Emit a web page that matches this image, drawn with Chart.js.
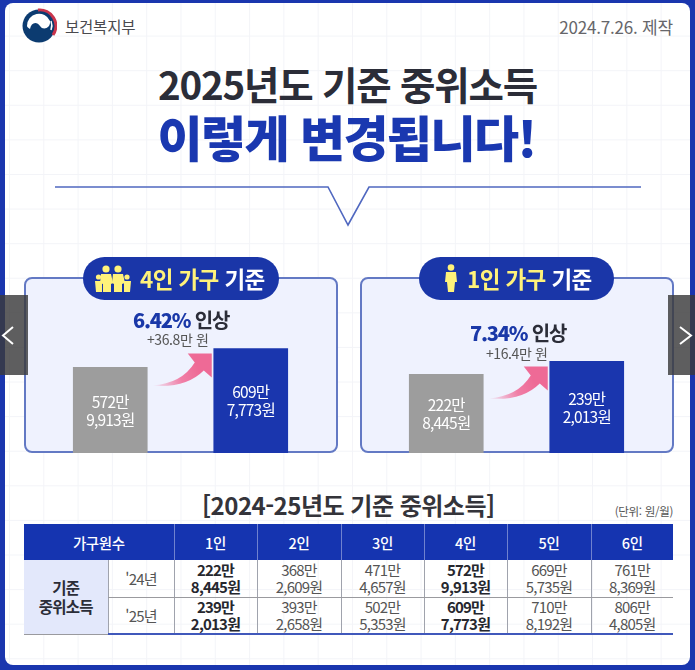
<!DOCTYPE html>
<html lang="ko">
<head>
<meta charset="utf-8">
<title>2025년도 기준 중위소득</title>
<script src="https://cdn.jsdelivr.net/npm/chart.js@4"></script>
<style>
  * { box-sizing: border-box; }
  html, body { margin: 0; padding: 0; }
  body {
    position: relative; width: 695px; height: 670px; overflow: hidden;
    background: #1a36ae;
    font-family: "Noto Sans CJK KR", "Noto Sans", sans-serif;
  }
  .abs { position: absolute; white-space: nowrap; }
  #sheet {
    left: 5px; top: 3px; width: 685px; height: 662px; border-radius: 8px;
    background-color: #fff;
    background-image:
      linear-gradient(#f3f4f8 1px, transparent 1px),
      linear-gradient(90deg, #f3f4f8 1px, transparent 1px);
    background-size: 34.3px 34.6px;
    background-position: 4px -2px;
  }
  #org { left: 65px; top: 15px; font-size: 15.5px; line-height: 22px; color: #4a4a4e; letter-spacing: -0.2px; }
  #made { right: 22px; top: 16px; font-size: 17px; line-height: 22px; color: #66666a; letter-spacing: -0.2px; }
  .title { left: 0; width: 695px; text-align: center; }
  #title1 { top: 57px; font-size: 38.5px; line-height: 52px; font-weight: 700; color: #2b2d38; letter-spacing: -1.2px; }
  #title2 { top: 104px; font-size: 49px; line-height: 64px; font-weight: 900; color: #1a38b0; letter-spacing: -1.6px; left: -1px; }
  .panel { top: 277px; width: 314px; height: 176px; background: #eff2fe; border: 2px solid #6379c4; border-radius: 8px; }
  .pill { top: 257px; height: 43px; background: #1a36a8; border-radius: 22px; }
  .pilltext { top: 262px; font-size: 22.5px; line-height: 32px; font-weight: 700; color: #fff; letter-spacing: -0.6px; }
  .pilltext b { color: #fff27a; font-weight: 700; }
  canvas { position: absolute; top: 279px; }
  .rate { font-size: 20px; line-height: 28px; font-weight: 700; color: #2b2d38; letter-spacing: -1.2px; }
  .rate b { color: #1a38a8; }
  .plus { font-size: 14px; line-height: 20px; color: #555; letter-spacing: -0.4px; }
  #tabletitle { left: 202px; top: 488px; font-size: 24px; line-height: 34px; font-weight: 700; color: #34343a; letter-spacing: -0.5px; }
  #unit { right: 22px; top: 503px; font-size: 11.5px; line-height: 16px; color: #555; letter-spacing: -0.3px; }
  #income { left: 24px; top: 524px; width: 649px; table-layout: fixed; border-collapse: collapse; text-align: center; color: #555; }
  #income th, #income td { padding: 0; border-left: 1px solid #a0a3ad; font-weight: 400; }
  #income th:first-child { border-left: 0; }
  #income thead th { height: 36px; background: #1534b0; color: #fff; font-size: 14.5px; font-weight: 500; border-left-color: #6f82cf; letter-spacing: -0.4px; }
  #income tbody td { height: 37px; font-size: 15px; line-height: 17px; letter-spacing: -0.8px; }
  #income tbody tr:first-child td { border-bottom: 1px solid #9a9a9e; }
  #income tbody tr:last-child td { border-bottom: 2px solid #4058bb; }
  #income td.group { background: #e3e8fb; color: #2b2d38; font-size: 15.5px; font-weight: 700; line-height: 19px; border-left: 0; border-bottom: 2px solid #4058bb; }
  #income td.strong { color: #26272e; font-weight: 700; }
  .nav { top: 295px; width: 28px; height: 80px; background: rgba(58, 58, 60, 0.82); }
</style>
</head>
<body>
<div class="abs" id="sheet"></div>

<svg class="abs" style="left:21px;top:8px" width="36" height="36" viewBox="0 0 36 36">
  <circle cx="18" cy="18" r="16.5" fill="#0c3b70"/>
  <path d="M17 2 A16 16 0 0 1 32 27" fill="none" stroke="#c9344c" stroke-width="3"/>
  <path d="M6 18 A12 12 0 0 1 29 13 C30 20 22 23 19 18 C16 13 10 14 9 21 C7.5 20 6 19 6 18 Z" fill="#fff"/>
  <path d="M30 13 A12.5 12.5 0 0 1 30 22" fill="none" stroke="#fff" stroke-width="1.5"/>
</svg>
<div class="abs" id="org">보건복지부</div>
<div class="abs" id="made">2024.7.26. 제작</div>

<div class="abs title" id="title1">2025년도 기준 중위소득</div>
<div class="abs title" id="title2">이렇게 변경됩니다!</div>

<svg class="abs" style="left:0;top:180px" width="695" height="50" viewBox="0 0 695 50">
  <polyline points="55,7 328,7 348,45 369,7 641,7" fill="none" stroke="#5068c0" stroke-width="1.6"/>
</svg>

<div class="abs panel" style="left:24px"></div>
<div class="abs panel" style="left:360px"></div>
<canvas id="fourChart" width="281" height="174" style="left:40px;width:281px;height:174px"></canvas>
<canvas id="oneChart" width="281" height="174" style="left:376px;width:281px;height:174px"></canvas>

<div class="abs pill" style="left:83px;width:196px"></div>
<svg class="abs" style="left:94px;top:264px" width="38" height="30" viewBox="0 0 38 30" fill="#fff27a">
  <circle cx="12" cy="5" r="3.6"/><circle cx="24" cy="5" r="3.6"/>
  <circle cx="4.5" cy="13" r="2.6"/><circle cx="33" cy="13" r="2.6"/>
  <path d="M7 10 h10 l2 9 -2 1 v8 h-8 v-8 l-3 -1 Z"/>
  <path d="M19 10 h10 l2 9 -3 1 v8 h-8 v-8 l-2 -1 Z"/>
  <path d="M1 17 h7 v11 h-6 Z"/><path d="M30 17 h7 l-1 11 h-6 Z"/>
</svg>
<div class="abs pilltext" style="left:140px"><b>4인 가구</b> 기준</div>
<div class="abs pill" style="left:419px;width:195px"></div>
<svg class="abs" style="left:445px;top:264px" width="12" height="28" viewBox="0 0 12 28" fill="#fff27a">
  <circle cx="6" cy="3.5" r="3.3"/>
  <path d="M1 8 h10 l1 10 -2 0 -1 10 h-6 l-1 -10 -2 0 Z"/>
</svg>
<div class="abs pilltext" style="left:467px"><b>1인 가구</b> 기준</div>

<div class="abs rate" style="left:133px;top:306px"><b>6.42%</b> 인상</div>
<div class="abs plus" style="left:147px;top:329px">+36.8만 원</div>
<div class="abs rate" style="left:470px;top:319px"><b>7.34%</b> 인상</div>
<div class="abs plus" style="left:486px;top:343px">+16.4만 원</div>

<div class="abs" id="tabletitle">[2024-25년도 기준 중위소득]</div>
<div class="abs" id="unit">(단위: 원/월)</div>
<table class="abs" id="income">
  <colgroup>
    <col style="width:84px"><col style="width:66px"><col style="width:83px"><col style="width:84px">
    <col style="width:83px"><col style="width:83px"><col style="width:84px"><col style="width:82px">
  </colgroup>
  <thead></thead>
  <tbody></tbody>
</table>

<div class="abs nav" style="left:0"></div>
<div class="abs nav" style="left:668px;width:27px"></div>
<svg class="abs" style="left:0;top:320px" width="28" height="30" viewBox="0 0 28 30">
  <polyline points="13,7 3,15.5 13,24" fill="none" stroke="#fff" stroke-width="2"/>
</svg>
<svg class="abs" style="left:668px;top:320px" width="27" height="30" viewBox="0 0 27 30">
  <polyline points="12,7 23,15.5 12,24" fill="none" stroke="#fff" stroke-width="2"/>
</svg>

<script>
const householdSizes = ["1인", "2인", "3인", "4인", "5인", "6인"];
const income2024 = [2228445, 3682609, 4714657, 5729913, 6695735, 7618369];
const income2025 = [2392013, 3932658, 5025353, 6097773, 7108192, 8064805];
const yearLabels = ["'24년", "'25년"];
const strongSizes = ["1인", "4인"];

const chartYears = ["2024년", "2025년"];
const fourPersonValues = [5729913, 6097773];
const onePersonValues = [2228445, 2392013];

function manPart(value) {
  return Math.floor(value / 10000) + "만";
}
function wonPart(value) {
  return (value % 10000).toLocaleString("en-US") + "원";
}

// Table
const thead = document.querySelector("#income thead");
thead.innerHTML = '<tr><th colspan="2">가구원수</th>' +
  householdSizes.map((size) => "<th>" + size + "</th>").join("") + "</tr>";

const tbody = document.querySelector("#income tbody");
[income2024, income2025].forEach((row, i) => {
  let html = "<tr>";
  if (i === 0) html += '<td class="group" rowspan="2">기준<br>중위소득</td>';
  html += "<td>" + yearLabels[i] + "</td>";
  row.forEach((value, j) => {
    const cls = strongSizes.includes(householdSizes[j]) ? ' class="strong"' : "";
    html += "<td" + cls + ">" + manPart(value) + "<br>" + wonPart(value) + "</td>";
  });
  tbody.insertAdjacentHTML("beforeend", html + "</tr>");
});

// Text inside the bars and the pink arrow between them
const barDecor = {
  id: "barDecor",
  afterDatasetsDraw(chart) {
    const ctx = chart.ctx;
    const bars = chart.getDatasetMeta(0).data;
    const values = chart.data.datasets[0].data;
    const bottom = chart.chartArea.bottom;

    ctx.save();
    ctx.fillStyle = "#fff";
    ctx.font = '400 15.5px "Noto Sans CJK KR"';
    ctx.letterSpacing = "-0.8px";
    ctx.textAlign = "center";
    ctx.textBaseline = "middle";
    bars.forEach((bar, i) => {
      const mid = (bar.y + bottom) / 2;
      ctx.fillText(manPart(values[i]), bar.x, mid - 8.5);
      ctx.fillText(wonPart(values[i]), bar.x, mid + 9.5);
    });

    const tailX = bars[0].x + bars[0].width / 2 + 5;
    const tipX = bars[1].x - bars[1].width / 2 - 2;
    const tipY = bars[1].y + 5;
    const tailY = tipY + 32;
    const grad = ctx.createLinearGradient(tailX, tailY, tipX - 14, tipY + 14);
    grad.addColorStop(0, "rgba(240, 110, 155, 0)");
    grad.addColorStop(0.6, "#f07ea6");
    grad.addColorStop(1, "#ee6a96");
    ctx.fillStyle = grad;
    ctx.beginPath();
    ctx.moveTo(tailX, tailY);
    ctx.quadraticCurveTo(tipX - 30, tailY - 2, tipX - 17, tipY + 9);
    ctx.lineTo(tipX - 24, tipY);
    ctx.lineTo(tipX, tipY);
    ctx.lineTo(tipX, tipY + 24);
    ctx.lineTo(tipX - 8, tipY + 17);
    ctx.quadraticCurveTo(tipX - 26, tailY + 3, tailX, tailY);
    ctx.fill();
    ctx.restore();
  },
};

function drawBars(id, values, yMin, yMax) {
  new Chart(document.getElementById(id).getContext("2d"), {
    type: "bar",
    data: {
      labels: chartYears,
      datasets: [
        {
          label: "기준 중위소득",
          data: values,
          backgroundColor: ["#9d9d9d", "#1a36ae"],
          barThickness: 74,
        },
      ],
    },
    options: {
      responsive: false,
      animation: false,
      layout: { padding: 0 },
      plugins: {
        legend: { display: false },
        tooltip: { enabled: false },
      },
      scales: {
        x: { display: false },
        y: { display: false, min: yMin, max: yMax },
      },
    },
    plugins: [barDecor],
  });
}

drawBars("fourChart", fourPersonValues, 4066000, 7450000);
drawBars("oneChart", onePersonValues, 1228000, 3440000);
</script>
</body>
</html>
